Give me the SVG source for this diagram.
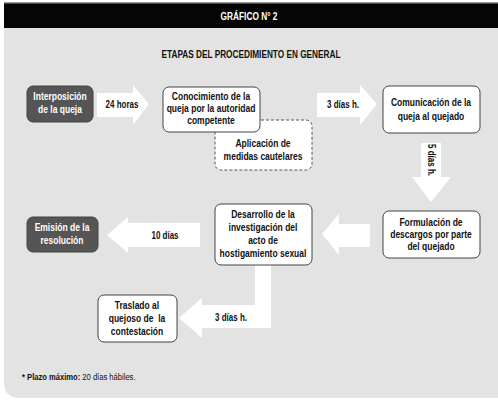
<svg xmlns="http://www.w3.org/2000/svg" width="498" height="403" viewBox="0 0 498 403">
<style>
text{font-family:"Liberation Sans",Arial,sans-serif;font-weight:bold;font-size:10px;fill:#111;text-anchor:middle}
.w{fill:#fff}
.box{fill:#fff;stroke:#444;stroke-width:1}
.dark{fill:#555;stroke:#444;stroke-width:1}
.dash{fill:#fff;stroke:#555;stroke-width:1;stroke-dasharray:3 2}
.arr{fill:#fff;stroke:none}
</style>
<rect x="0" y="0" width="498" height="403" fill="#fff"/>
<path d="M4 28 H498 V398 H20 Q4 398 4 382 Z" fill="#e3e3e3"/>
<rect x="4" y="3" width="494" height="25" fill="#050505"/>
<rect x="4" y="2" width="494" height="1.5" fill="#999"/>
<text x="249" y="20" class="w" textLength="57" lengthAdjust="spacingAndGlyphs">GRÁFICO N° 2</text>
<text x="251" y="58" textLength="179" lengthAdjust="spacingAndGlyphs">ETAPAS DEL PROCEDIMIENTO EN GENERAL</text>
<g id="connectors">
<path class="arr" d="M97 93 H133 V85 L149 104 L133 125 V117 H97 Z"/>
<text transform="translate(122 108) scale(.8 1)">24 horas</text>
<path class="arr" d="M317 93 H360 V85 L377 104 L360 125 V117 H317 Z"/>
<text transform="translate(343 108) scale(.8 1)">3 días h.</text>
<path class="arr" d="M421 143 H441 V177 H451 L431 202 L412 177 H421 Z"/>
<text transform="translate(428 160) rotate(90) scale(.8 1)">5 días h.</text>
<path class="arr" d="M370 224 V247 H339 V255 L322 234 L339 214 V224 Z"/>
<path class="arr" d="M200 223 V247 H128 V253 L107 235 L128 217 V223 Z"/>
<text transform="translate(165 239) scale(.8 1)">10 días</text>
<path class="arr" d="M255 265 H271 V328 H202 V338 L179 318 L202 298 V305 H255 Z"/>
<text transform="translate(231 321) scale(.8 1)">3 días h.</text>
</g>
<g id="n1">
<rect class="dark" x="27" y="86" width="66" height="36" rx="6"/>
<text class="w" transform="translate(60 100) scale(.85 1)">Interposición</text>
<text class="w" transform="translate(60 113) scale(.85 1)">de la queja</text>
</g>
<g id="n2b">
<rect class="dash" x="215" y="120" width="97" height="50" rx="6"/>
<text transform="translate(263 147) scale(.85 1)">Aplicación de</text>
<text transform="translate(263 160) scale(.85 1)">medidas cautelares</text>
</g>
<g id="n2">
<rect class="box" x="163" y="87" width="97" height="45" rx="6"/>
<text transform="translate(211 100) scale(.85 1)">Conocimiento de la</text>
<text transform="translate(211 112) scale(.85 1)">queja por la autoridad</text>
<text transform="translate(211 124) scale(.85 1)">competente</text>
</g>
<g id="n3">
<rect class="box" x="383" y="86" width="97" height="47" rx="6"/>
<text transform="translate(431 106) scale(.85 1)">Comunicación de la</text>
<text transform="translate(431 120) scale(.85 1)">queja al quejado</text>
</g>
<g id="n4">
<rect class="box" x="383" y="211" width="97" height="47" rx="6"/>
<text transform="translate(431 226) scale(.85 1)">Formulación de</text>
<text transform="translate(431 238) scale(.85 1)">descargos por parte</text>
<text transform="translate(431 250) scale(.85 1)">del quejado</text>
</g>
<g id="n5">
<rect class="box" x="215" y="204" width="97" height="61" rx="6"/>
<text transform="translate(263 218) scale(.85 1)">Desarrollo de la</text>
<text transform="translate(263 231) scale(.85 1)">investigación del</text>
<text transform="translate(263 244) scale(.85 1)">acto de</text>
<text transform="translate(263 257) scale(.85 1)">hostigamiento sexual</text>
</g>
<g id="n6">
<rect class="dark" x="27" y="217" width="71" height="35" rx="6"/>
<text class="w" transform="translate(62 231) scale(.85 1)">Emisión de la</text>
<text class="w" transform="translate(62 244) scale(.85 1)">resolución</text>
</g>
<g id="n7">
<rect class="box" x="98" y="295" width="79" height="47" rx="6"/>
<text transform="translate(137 309) scale(.85 1)">Traslado al</text>
<text transform="translate(137 322) scale(.85 1)" style="white-space:pre">quejoso de  la</text>
<text transform="translate(137 335) scale(.85 1)">contestación</text>
</g>
<text transform="translate(22 380) scale(.8 1)" style="text-anchor:start;font-size:9.5px">* Plazo máximo: <tspan style="font-weight:normal">20 días hábiles.</tspan></text>
</svg>
